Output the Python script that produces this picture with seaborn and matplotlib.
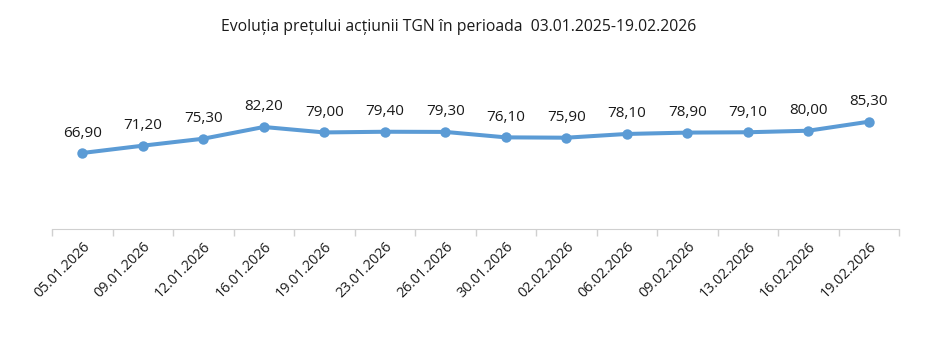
import pandas as pd
import seaborn as sns
import matplotlib.pyplot as plt
import numpy as np

dates = ["05.01.2026", "09.01.2026", "12.01.2026", "16.01.2026", "19.01.2026",
         "23.01.2026", "26.01.2026", "30.01.2026", "02.02.2026", "06.02.2026",
         "09.02.2026", "13.02.2026", "16.02.2026", "19.02.2026"]
prices = [66.90, 71.20, 75.30, 82.20, 79.00, 79.40, 79.30, 76.10, 75.90,
          78.10, 78.90, 79.10, 80.00, 85.30]

df = pd.DataFrame({"Data": dates, "Pret": prices})
df["pos"] = np.arange(len(df))

sns.set_style("white")
plt.rcParams['font.family'] = ['Open Sans', 'DejaVu Sans']

fig = plt.figure(figsize=(9.51, 3.53), dpi=100)
ax = fig.add_axes([52/951, 124/353, 847/951, 169/353])

sns.lineplot(data=df, x="pos", y="Pret", ax=ax, color="#5b9bd5", linewidth=2.9,
             marker="o", markersize=7.5, markeredgewidth=0, sort=False)

for x, y in zip(df["pos"], df["Pret"]):
    ax.annotate(f"{y:.2f}".replace(".", ","), (x, y), xytext=(0, 9),
                textcoords="offset points", ha="center", va="bottom",
                fontsize=11, color="#1a1a1a")

ax.set_xlim(-0.5, len(df) - 0.5)
ax.set_ylim(22.2, 121.6)
ax.set_xticks(df["pos"])
ax.set_xticklabels(dates, rotation=45, ha="right", rotation_mode="anchor",
                   fontsize=10.3, color="#1a1a1a")
ax.set_xticks(np.arange(len(df) + 1) - 0.5, minor=True)
ax.tick_params(axis="x", which="major", length=0, pad=7, bottom=True)
ax.tick_params(axis="x", which="minor", length=5, color="#d0d0d0", width=1,
               bottom=True, direction="out")
ax.set_yticks([])
ax.set_xlabel("")
ax.set_ylabel("")
for s in ["top", "left", "right"]:
    ax.spines[s].set_visible(False)
ax.spines["bottom"].set_color("#d0d0d0")

fig.text(459/951, 1 - 27/353, "Evoluția prețului acțiunii TGN în perioada  03.01.2025-19.02.2026",
         ha="center", va="center", fontsize=11.3, color="#1a1a1a")

fig.savefig("out.png", dpi=100)
